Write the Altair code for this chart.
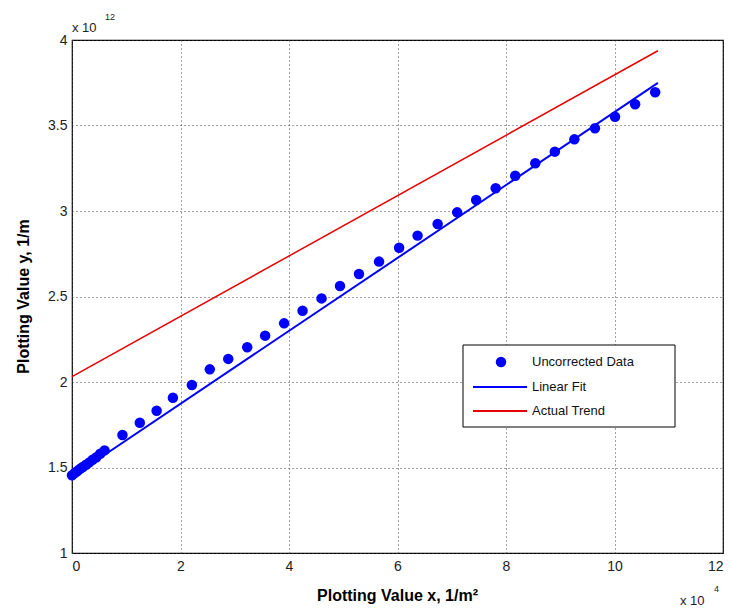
import altair as alt
import pandas as pd

# Uncorrected data (x in 1e4 1/m^2, y in 1e12 1/m)
data_x = [0.00, 0.05, 0.10, 0.15, 0.20, 0.26, 0.32, 0.38, 0.45, 0.52, 0.60,
          0.93, 1.25, 1.56, 1.86, 2.21, 2.54, 2.88, 3.23, 3.56, 3.91, 4.25,
          4.60, 4.94, 5.29, 5.66, 6.03, 6.37, 6.74, 7.10, 7.45, 7.81, 8.17,
          8.54, 8.90, 9.26, 9.64, 10.01, 10.38, 10.75]
data_y = [1.455, 1.468, 1.480, 1.492, 1.503, 1.516, 1.530, 1.545, 1.560, 1.580, 1.600,
          1.690, 1.762, 1.832, 1.908, 1.982, 2.074, 2.135, 2.203, 2.271, 2.343, 2.417,
          2.489, 2.561, 2.632, 2.704, 2.785, 2.856, 2.924, 2.992, 3.064, 3.133, 3.206,
          3.279, 3.347, 3.419, 3.484, 3.551, 3.624, 3.694]

fit_x = [0.0, 10.8]
fit_y = [1.446, 3.749]

trend_x = [0.0, 10.8]
trend_y = [2.031, 3.937]

x_ticks = [0, 2, 4, 6, 8, 10, 12]
y_ticks = [1, 1.5, 2, 2.5, 3, 3.5, 4]

legend_labels = ["Uncorrected Data", "Linear Fit", "Actual Trend"]

FONT = "Liberation Sans"

pts = pd.DataFrame({"x": data_x, "y": data_y})
fit = pd.DataFrame({"x": fit_x, "y": fit_y})
trend = pd.DataFrame({"x": trend_x, "y": trend_y})
one = pd.DataFrame({"a": [0]})

xscale = alt.Scale(domain=[0, 12], nice=False, zero=False)
yscale = alt.Scale(domain=[1, 4], nice=False, zero=False)

xaxis = alt.Axis(values=x_ticks, format="~g", title="Plotting Value x, 1/m²",
                 grid=True, gridDash=[1, 3], gridColor="#444", gridWidth=1,
                 domain=False, tickSize=0, labelPadding=6,
                 labelFont=FONT, labelFontSize=14, labelColor="#222",
                 titleFont=FONT, titleFontSize=16, titleFontWeight="bold",
                 titleColor="#000", titleBaseline="alphabetic", titleY=47, titleX=325)
yaxis = alt.Axis(values=y_ticks, format="~g", title="Plotting Value y, 1/m",
                 grid=True, gridDash=[1, 3], gridColor="#444", gridWidth=1,
                 domain=False, tickSize=0, labelPadding=5,
                 labelFont=FONT, labelFontSize=14, labelColor="#222",
                 titleFont=FONT, titleFontSize=16, titleFontWeight="bold",
                 titleColor="#000", titleAngle=270, titleBaseline="alphabetic",
                 titleAlign="center", titleX=-44, titleY=256)

base_pts = alt.Chart(pts).mark_point(filled=True, shape="circle", size=110,
                                      color="#0000ff", opacity=1).encode(
    x=alt.X("x:Q", scale=xscale, axis=xaxis),
    y=alt.Y("y:Q", scale=yscale, axis=yaxis),
)

fit_line = alt.Chart(fit).mark_line(color="#0000ff", strokeWidth=2).encode(
    x=alt.X("x:Q", scale=xscale), y=alt.Y("y:Q", scale=yscale))

trend_line = alt.Chart(trend).mark_line(color="#e80000", strokeWidth=1.5).encode(
    x=alt.X("x:Q", scale=xscale), y=alt.Y("y:Q", scale=yscale))

# Legend (manual, MATLAB style)
leg_box = alt.Chart(one).mark_rect(fill="white", stroke="black", strokeWidth=1).encode(
    x=alt.value(391), x2=alt.value(603), y=alt.value(305), y2=alt.value(387))
leg_dot = alt.Chart(one).mark_point(filled=True, shape="circle", size=110,
                                     color="#0000ff", opacity=1).encode(
    x=alt.value(429), y=alt.value(322))
leg_fit = alt.Chart(one).mark_rule(color="#0000ff", strokeWidth=2).encode(
    x=alt.value(401), x2=alt.value(455), y=alt.value(347))
leg_trend = alt.Chart(one).mark_rule(color="#e80000", strokeWidth=2).encode(
    x=alt.value(401), x2=alt.value(455), y=alt.value(371))
leg_text = alt.Chart(pd.DataFrame({"t": legend_labels, "yy": [322, 347, 371]})).mark_text(
    align="left", baseline="middle", font=FONT, fontSize=13, color="#111").encode(
    x=alt.value(460), y=alt.Y("yy:Q", scale=None), text="t:N")

# Exponent annotations
exp_base = pd.DataFrame({"t": ["x 10", "x 10"], "px": [0, 608], "py": [-8, 565]})
exp_pow = pd.DataFrame({"t": ["12", "4"], "px": [33, 642], "py": [-20, 552]})
exp1 = alt.Chart(exp_base).mark_text(align="left", baseline="alphabetic", font=FONT,
                                     fontSize=13, color="#222").encode(
    x=alt.X("px:Q", scale=None), y=alt.Y("py:Q", scale=None), text="t:N")
exp2 = alt.Chart(exp_pow).mark_text(align="left", baseline="alphabetic", font=FONT,
                                    fontSize=9, color="#222").encode(
    x=alt.X("px:Q", scale=None), y=alt.Y("py:Q", scale=None), text="t:N")

chart = alt.layer(trend_line, fit_line, base_pts, leg_box, leg_dot, leg_fit, leg_trend,
                  leg_text, exp1, exp2).properties(
    width=651, height=513,
    autosize=alt.AutoSizeParams(type="none"),
    padding={"left": 72, "top": 40, "right": 7, "bottom": 60},
    background="white",
).configure_view(stroke="black", strokeWidth=1.2)

chart.save("out.html", embed_options={"renderer": "svg", "actions": False})
